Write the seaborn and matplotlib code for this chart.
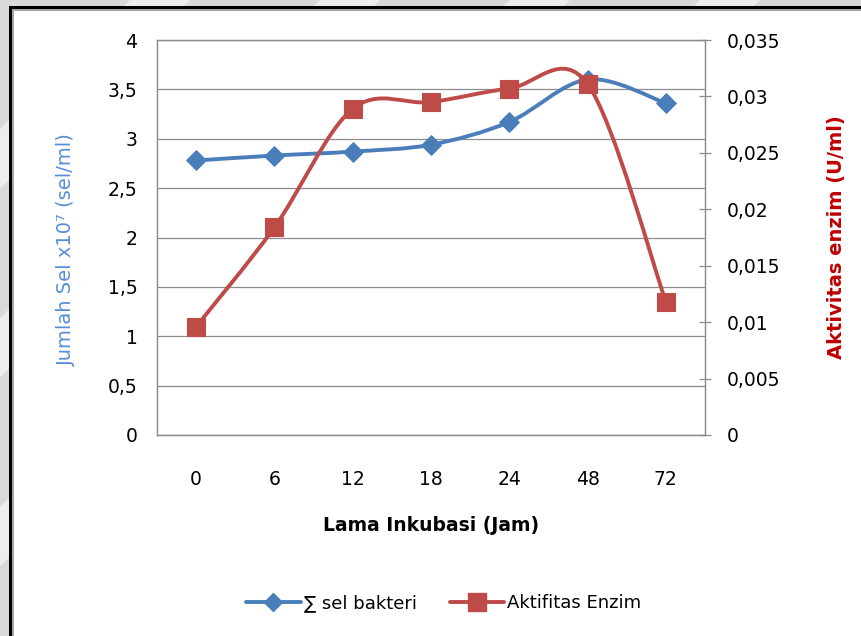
import numpy as np
import pandas as pd
import matplotlib
matplotlib.use("Agg")
import matplotlib.pyplot as plt
import seaborn as sns
from matplotlib.path import Path
from matplotlib.patches import PathPatch, Rectangle, Polygon
from matplotlib.lines import Line2D
from matplotlib.ticker import FuncFormatter

# --- data -------------------------------------------------------------
jam = ["0", "6", "12", "18", "24", "48", "72"]
sel_bakteri = [2.78, 2.83, 2.87, 2.94, 3.17, 3.60, 3.36]          # x10^7 sel/ml
aktivitas_enzim = [0.0096, 0.0184, 0.0289, 0.0295, 0.0307, 0.0311, 0.0118]  # U/ml
left_ticks = [0, 0.5, 1, 1.5, 2, 2.5, 3, 3.5, 4]
right_ticks = [0, 0.005, 0.01, 0.015, 0.02, 0.025, 0.03, 0.035]

BLUE = "#4A7EBB"
RED = "#BE4B48"
GRID = "#8C8C8C"

sns.set_theme(style="white")
plt.rcParams["font.family"] = ["DejaVu Sans"]
plt.rcParams["text.color"] = "black"

W, H = 861, 636
fig = plt.figure(figsize=(W / 100, H / 100), dpi=100)
fig.patch.set_facecolor("#D9D9D9")


def fx(px):
    return px / W


def fy(py):
    return 1 - py / H


# faint diagonal bands in the margin strip
for off in range(-700, 1000, 190):
    band = Polygon([(fx(off), fy(636)), (fx(off + 60), fy(636)),
                    (fx(off + 700), fy(0)), (fx(off + 640), fy(0))],
                   closed=True, transform=fig.transFigure,
                   facecolor="#EDEDED", edgecolor="none", zorder=0)
    fig.add_artist(band)

# page panel with its double frame
fig.add_artist(Rectangle((fx(9), fy(700)), fx(900), fy(6) - fy(700),
                         transform=fig.transFigure, facecolor="black",
                         edgecolor="none", zorder=1))
fig.add_artist(Rectangle((fx(12), fy(700)), fx(900), fy(9) - fy(700),
                         transform=fig.transFigure, facecolor="#A6A6A6",
                         edgecolor="none", zorder=1))
fig.add_artist(Rectangle((fx(14), fy(700)), fx(900), fy(11) - fy(700),
                         transform=fig.transFigure, facecolor="white",
                         edgecolor="none", zorder=1))

ax = fig.add_axes([fx(157), fy(435), fx(705 - 157), fy(40) - fy(435)])
ax.set_zorder(2)
ax.patch.set_facecolor("white")
ax2 = ax.twinx()

df = pd.DataFrame({"jam": jam, "pos": np.arange(len(jam)),
                   "sel": sel_bakteri, "enzim": aktivitas_enzim})


def smooth_path(xs, ys):
    """Bezier path through the points (Catmull-Rom style tangents)."""
    pts = np.column_stack([xs, ys]).astype(float)
    n = len(pts)
    verts = [pts[0]]
    codes = [Path.MOVETO]
    for i in range(n - 1):
        p0 = pts[i - 1] if i > 0 else pts[i]
        p1 = pts[i]
        p2 = pts[i + 1]
        p3 = pts[i + 2] if i + 2 < n else pts[i + 1]
        c1 = p1 + (p2 - p0) / 6.0
        c2 = p2 - (p3 - p1) / 6.0
        verts += [c1, c2, p2]
        codes += [Path.CURVE4] * 3
    return Path(verts, codes)


ax.add_patch(PathPatch(smooth_path(df["pos"], df["sel"]), facecolor="none",
                       edgecolor=BLUE, lw=2.8, capstyle="round",
                       joinstyle="round", zorder=3))
sns.scatterplot(data=df, x="pos", y="sel", ax=ax, marker="D", s=100,
                color=BLUE, edgecolor=BLUE, linewidth=0.8, zorder=4,
                legend=False)

ax2.add_patch(PathPatch(smooth_path(df["pos"], df["enzim"]), facecolor="none",
                        edgecolor=RED, lw=2.8, capstyle="round",
                        joinstyle="round", zorder=3))
sns.scatterplot(data=df, x="pos", y="enzim", ax=ax2, marker="s", s=175,
                color=RED, edgecolor=RED, linewidth=0.8, zorder=4,
                legend=False)

# --- axes -------------------------------------------------------------
ax.set_xlim(-0.5, len(jam) - 0.5)
ax.set_ylim(0, 4)
ax2.set_ylim(0, 0.035)


def comma(v, _pos=None):
    return f"{round(v, 4):g}".replace(".", ",")


ax.set_xticks(df["pos"])
ax.set_xticklabels(jam)
ax.set_yticks(left_ticks)
ax.yaxis.set_major_formatter(FuncFormatter(comma))
ax2.set_yticks(right_ticks)
ax2.yaxis.set_major_formatter(FuncFormatter(comma))

ax.grid(axis="y", color=GRID, lw=0.9)
ax.grid(axis="x", visible=False)
ax.set_axisbelow(True)

ax.tick_params(axis="y", length=0, pad=14, labelsize=13.5, colors="black")
ax.tick_params(axis="x", length=0, pad=25, labelsize=13.5, colors="black")
ax2.tick_params(axis="y", direction="inout", length=9, width=0.9,
                color=GRID, pad=11, labelsize=13.5, labelcolor="black")

for a in (ax, ax2):
    for s in a.spines.values():
        s.set_color(GRID)
        s.set_linewidth(0.9)

ax.set_xlabel("Lama Inkubasi (Jam)", fontsize=13.5, fontweight="bold",
              color="black")
ax.xaxis.set_label_coords(0.5, -0.205)
ax.set_ylabel("Jumlah Sel x10\u2077 (sel/ml)", fontsize=14, color="#558ED5")
ax.yaxis.set_label_coords(-0.148, 0.47)
ax2.set_ylabel("Aktivitas enzim (U/ml)", fontsize=14, fontweight="bold",
               color="#C00000")
ax2.yaxis.set_label_coords(1.222, 0.5)

handles = [
    Line2D([], [], color=BLUE, lw=2.8, marker="D", ms=9.5,
           markeredgecolor=BLUE, label="\u2211 sel bakteri"),
    Line2D([], [], color=RED, lw=2.8, marker="s", ms=13,
           markeredgecolor=RED, label="Aktifitas Enzim"),
]
fig.legend(handles=handles, loc="center", bbox_to_anchor=(fx(444), fy(603)),
           ncol=2, frameon=False, fontsize=13, handlelength=3.0,
           handletextpad=0.2, columnspacing=1.8, labelcolor="black")

fig.savefig("out.png", dpi=100, facecolor=fig.get_facecolor())
